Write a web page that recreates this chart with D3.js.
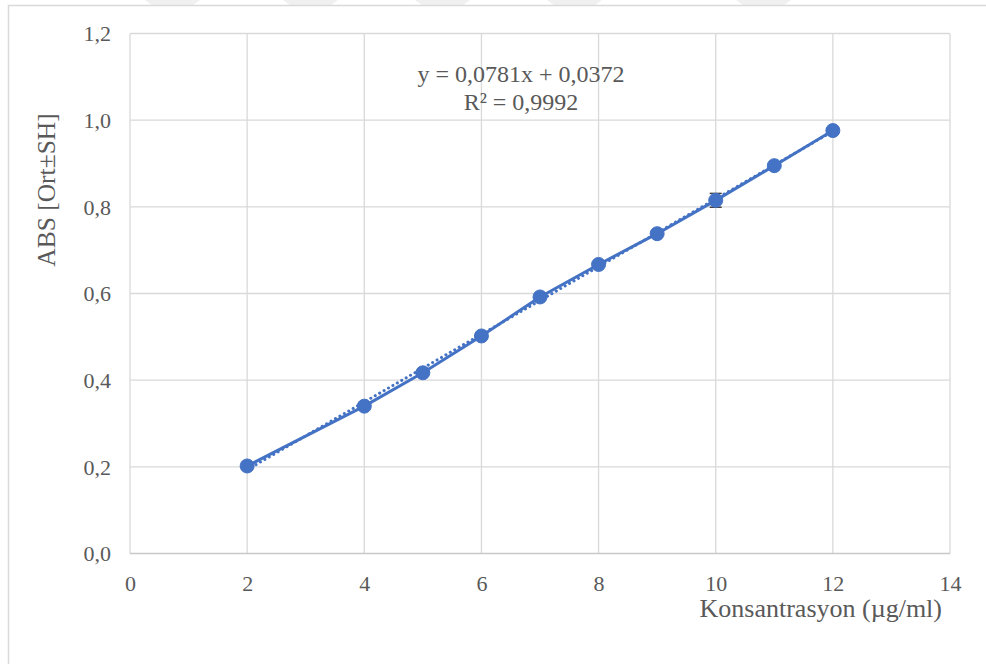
<!DOCTYPE html>
<html>
<head>
<meta charset="utf-8">
<script src="https://cdn.jsdelivr.net/npm/d3@7"></script>
<style>
  html, body { margin: 0; padding: 0; background: #fff; }
  svg { display: block; }
  text { font-family: "Liberation Serif", "Times New Roman", serif; fill: #595959; }
</style>
</head>
<body>
<svg id="chart" width="986" height="664"></svg>
<script>
// ---- data ----
const concentrations = [2, 4, 5, 6, 7, 8, 9, 10, 11, 12];
const absorbance     = [0.202, 0.340, 0.417, 0.502, 0.592, 0.667, 0.738, 0.815, 0.895, 0.976];
const stdDev         = [0.003, 0.004, 0.003, 0.004, 0.004, 0.003, 0.004, 0.016, 0.004, 0.003];
const xTicks = [0, 2, 4, 6, 8, 10, 12, 14];
const yTicks = [0, 0.2, 0.4, 0.6, 0.8, 1.0, 1.2];
const trendSlope = 0.0781;
const trendIntercept = 0.0372;
const equationLines = ["y = 0,0781x + 0,0372", "R² = 0,9992"];
const xTitle = "Konsantrasyon (µg/ml)";
const yTitle = "ABS [Ort±SH]";

const svg = d3.select("#chart");
const blue = "#4472C4";
const grid = "#d9d9d9";

// faint watermark shapes at very top
const wm = [145, 283, 415, 547, 736];
svg.selectAll("path.wm").data(wm).enter().append("path")
  .attr("d", d => `M${d},0 L${d + 55},0 L${d + 48},5 L${d + 7},5 Z`)
  .attr("fill", "#f0f0f0");

// chart border (cropped)
svg.append("path")
  .attr("d", "M8.5,664 L8.5,5.5 L986,5.5")
  .attr("fill", "none").attr("stroke", grid).attr("stroke-width", 1.5);

const x = d3.scaleLinear().domain([0, 14]).range([130, 950]);
const y = d3.scaleLinear().domain([0, 1.2]).range([553.5, 33.5]);

// gridlines
svg.append("g").selectAll("line").data(xTicks).enter().append("line")
  .attr("x1", d => x(d)).attr("x2", d => x(d))
  .attr("y1", y(0)).attr("y2", y(1.2))
  .attr("stroke", grid).attr("stroke-width", 1.3);
svg.append("g").selectAll("line").data(yTicks).enter().append("line")
  .attr("x1", x(0)).attr("x2", x(14))
  .attr("y1", d => y(d)).attr("y2", d => y(d))
  .attr("stroke", d => d === 0 ? "#c8c8c8" : grid).attr("stroke-width", d => d === 0 ? 1.6 : 1.3);

// axes labels via d3 axes (no domain/ticks lines)
const fmt = d => d3.format(".1f")(d).replace(".", ",");
const xAxis = svg.append("g").attr("transform", `translate(0,${y(0)})`)
  .call(d3.axisBottom(x).tickValues(xTicks).tickSize(0).tickPadding(0).tickFormat(d => d));
xAxis.select(".domain").remove();
xAxis.selectAll("text").attr("y", 37).attr("dy", 0)
  .style("font-size", "22px").style("font-family", "Liberation Serif").attr("fill", "#595959");

const yAxis = svg.append("g").attr("transform", `translate(111,0)`)
  .call(d3.axisLeft(y).tickValues(yTicks).tickSize(0).tickPadding(0).tickFormat(fmt));
yAxis.select(".domain").remove();
yAxis.selectAll("text").attr("x", 0).attr("dy", "0.34em")
  .style("font-size", "22px").style("font-family", "Liberation Serif").attr("fill", "#595959");

// axis titles
svg.append("text").attr("x", 942).attr("y", 617).attr("text-anchor", "end")
  .style("font-size", "26px").text(xTitle);
svg.append("text").attr("transform", "translate(55,190) rotate(-90)")
  .attr("text-anchor", "middle").style("font-size", "25.5px").text(yTitle);

// error bars
const data = concentrations.map((c, i) => ({ x: c, y: absorbance[i], sd: stdDev[i] }));
const eb = svg.append("g").attr("stroke", "#404040").attr("stroke-width", 1.5);
data.forEach(d => {
  eb.append("line").attr("x1", x(d.x)).attr("x2", x(d.x)).attr("y1", y(d.y - d.sd)).attr("y2", y(d.y + d.sd));
  [d.y - d.sd, d.y + d.sd].forEach(v => eb.append("line")
    .attr("x1", x(d.x) - 6).attr("x2", x(d.x) + 6).attr("y1", y(v)).attr("y2", y(v)));
});

// data line
svg.append("path").datum(data)
  .attr("d", d3.line().x(d => x(d.x)).y(d => y(d.y)))
  .attr("fill", "none").attr("stroke", blue).attr("stroke-width", 3).attr("stroke-linejoin", "round");

// trendline (dotted)
const tx = [concentrations[0], concentrations[concentrations.length - 1]];
svg.append("path").datum(tx)
  .attr("d", d3.line().x(d => x(d)).y(d => y(trendSlope * d + trendIntercept)))
  .attr("fill", "none").attr("stroke", blue).attr("stroke-width", 3)
  .attr("stroke-dasharray", "0.1 5").attr("stroke-linecap", "round");

// markers
svg.append("g").selectAll("circle").data(data).enter().append("circle")
  .attr("cx", d => x(d.x)).attr("cy", d => y(d.y)).attr("r", 7)
  .attr("fill", blue).attr("stroke", blue).attr("stroke-width", 1);

// equation
const eq = svg.append("text").attr("text-anchor", "middle").style("font-size", "24px");
equationLines.forEach((t, i) => eq.append("tspan").attr("x", 521).attr("y", 82 + i * 28).text(t));
</script>
</body>
</html>
